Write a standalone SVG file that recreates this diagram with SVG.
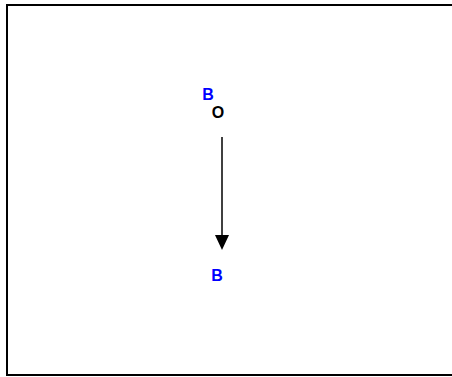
<svg xmlns="http://www.w3.org/2000/svg" width="452" height="377" viewBox="0 0 452 377">
<style>
.lbl{font-family:"Liberation Sans",Arial,sans-serif;font-size:16px;font-weight:bold}
.b{fill:#0000ff}
.o{fill:#000000}
</style>
<rect x="7" y="5" width="450" height="370" fill="#fff" stroke="#000" stroke-width="2"/>
<g id="nodeB1"><text class="lbl b" x="208" y="100" text-anchor="middle">B</text></g>
<g id="nodeO"><text class="lbl o" x="218" y="118" text-anchor="middle">O</text></g>
<g id="nodeB2"><text class="lbl b" x="217" y="281" text-anchor="middle">B</text></g>
<g id="connectors">
<line x1="222" y1="137" x2="222" y2="235" stroke="#000" stroke-width="1.5"/>
<path d="M215,235 L229,235 L222,250 Z" fill="#000"/>
</g>
</svg>
